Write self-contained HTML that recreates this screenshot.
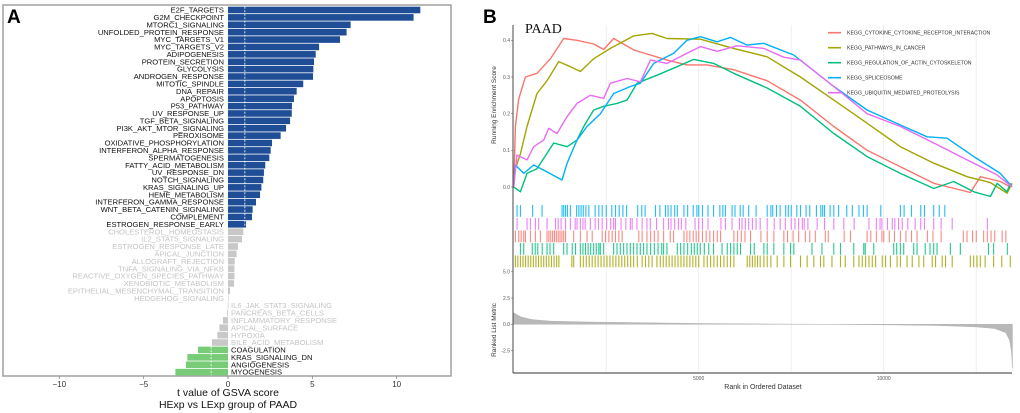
<!DOCTYPE html>
<html><head><meta charset="utf-8"><style>
body{margin:0;background:#fff;}
svg{display:block;font-family:"Liberation Sans",Arial,sans-serif;}
</style></head><body>
<svg id="fig" width="1020" height="413" viewBox="0 0 1020 413">
<g id="pa"></g>
<g id="pb"></g>
</svg>
<script>
// ---------- Panel A data ----------
const pathways = ["E2F_TARGETS","G2M_CHECKPOINT","MTORC1_SIGNALING","UNFOLDED_PROTEIN_RESPONSE","MYC_TARGETS_V1","MYC_TARGETS_V2","ADIPOGENESIS","PROTEIN_SECRETION","GLYCOLYSIS","ANDROGEN_RESPONSE","MITOTIC_SPINDLE","DNA_REPAIR","APOPTOSIS","P53_PATHWAY","UV_RESPONSE_UP","TGF_BETA_SIGNALING","PI3K_AKT_MTOR_SIGNALING","PEROXISOME","OXIDATIVE_PHOSPHORYLATION","INTERFERON_ALPHA_RESPONSE","SPERMATOGENESIS","FATTY_ACID_METABOLISM","UV_RESPONSE_DN","NOTCH_SIGNALING","KRAS_SIGNALING_UP","HEME_METABOLISM","INTERFERON_GAMMA_RESPONSE","WNT_BETA_CATENIN_SIGNALING","COMPLEMENT","ESTROGEN_RESPONSE_EARLY","CHOLESTEROL_HOMEOSTASIS","IL2_STAT5_SIGNALING","ESTROGEN_RESPONSE_LATE","APICAL_JUNCTION","ALLOGRAFT_REJECTION","TNFA_SIGNALING_VIA_NFKB","REACTIVE_OXYGEN_SPECIES_PATHWAY","XENOBIOTIC_METABOLISM","EPITHELIAL_MESENCHYMAL_TRANSITION","HEDGEHOG_SIGNALING","IL6_JAK_STAT3_SIGNALING","PANCREAS_BETA_CELLS","INFLAMMATORY_RESPONSE","APICAL_SURFACE","HYPOXIA","BILE_ACID_METABOLISM","COAGULATION","KRAS_SIGNALING_DN","ANGIOGENESIS","MYOGENESIS"];
const tValues = [11.4,11.0,7.27,7.03,6.64,5.4,5.2,5.1,5.06,5.04,4.46,4.07,3.91,3.79,3.78,3.68,3.44,3.12,2.61,2.53,2.45,2.21,2.13,2.09,1.98,1.9,1.66,1.46,1.42,1.07,0.91,0.83,0.59,0.51,0.4,0.38,0.38,0.36,0.12,0.02,-0.01,-0.05,-0.3,-0.51,-0.63,-0.95,-1.78,-2.41,-2.49,-3.12];
const xTicksA = [-10,-5,0,5,10];
const sigThreshold = 1.0; // |t| above this is coloured

// ---------- Panel B data ----------
const geneSets = ["KEGG_CYTOKINE_CYTOKINE_RECEPTOR_INTERACTION","KEGG_PATHWAYS_IN_CANCER","KEGG_REGULATION_OF_ACTIN_CYTOSKELETON","KEGG_SPLICEOSOME","KEGG_UBIQUITIN_MEDIATED_PROTEOLYSIS"];
const setColors = ["#F8766D","#A3A500","#00BF7D","#00B0F6","#E76BF3"];
const esRed = [[0,0],[45,0.165],[135,0.24],[315,0.3],[631,0.31],[991,0.35],[1351,0.405],[1712,0.4],[2162,0.39],[2433,0.375],[2703,0.405],[3244,0.374],[4145,0.346],[4685,0.333],[5226,0.333],[5947,0.32],[6848,0.29],[7749,0.237],[8650,0.165],[9551,0.1],[10452,0.055],[11353,0.01],[12344,-0.015],[12614,0.028],[13155,0.015],[13425,0]];
const esOlive = [[0,0.037],[180,0.09],[360,0.165],[631,0.255],[901,0.29],[1216,0.342],[1532,0.328],[1802,0.315],[2162,0.35],[2613,0.378],[3244,0.412],[3739,0.419],[4145,0.405],[5046,0.403],[5947,0.378],[6848,0.355],[7749,0.3],[8650,0.237],[9551,0.174],[10452,0.11],[11353,0.065],[12254,0.028],[12884,0.012],[13335,-0.017],[13470,0.01]];
const esGreen = [[0,0],[180,-0.013],[360,0.037],[631,0.05],[1081,0.12],[1442,0.11],[1712,0.128],[1892,0.165],[2162,0.21],[2433,0.22],[2793,0.228],[3063,0.237],[3334,0.283],[3874,0.305],[4415,0.328],[4865,0.348],[5406,0.337],[5947,0.31],[6848,0.27],[7749,0.22],[8650,0.146],[9551,0.083],[10452,0.037],[11353,-0.004],[11893,0.015],[12434,-0.013],[12884,-0.026],[13065,0.01],[13335,-0.013],[13425,0.01]];
const esBlue = [[0,0],[45,0.06],[270,0.037],[541,0.06],[811,0.046],[1306,0.019],[1442,0.065],[1712,0.128],[1982,0.165],[2343,0.2],[2703,0.255],[3154,0.274],[3424,0.283],[3784,0.337],[4325,0.365],[4685,0.4],[5046,0.41],[5496,0.396],[5857,0.408],[6307,0.387],[6758,0.392],[7568,0.36],[8650,0.274],[9551,0.21],[10452,0.169],[11172,0.137],[11713,0.133],[12434,0.083],[13155,0.037],[13470,0]];
const esMagenta = [[0,0],[90,0.087],[360,0.074],[541,0.11],[811,0.128],[946,0.16],[1171,0.146],[1442,0.192],[1712,0.228],[2072,0.25],[2433,0.242],[2613,0.283],[3063,0.296],[3424,0.287],[3694,0.346],[4145,0.337],[4685,0.365],[5046,0.383],[5496,0.37],[6037,0.385],[6758,0.378],[7298,0.354],[7749,0.346],[8650,0.274],[9551,0.2],[10452,0.165],[11353,0.12],[12254,0.074],[13065,0.033],[13470,0]];
const hitsBlue = [90,180,510,765,1305,1350,1400,1450,1530,1700,1760,1820,1880,1950,2030,2200,2300,2390,2500,2650,2750,2850,2950,3050,3350,3460,3550,3830,3950,4100,4170,4250,4350,4420,4600,4700,4850,4950,5000,5100,5250,5400,5570,5650,5720,5900,5980,6120,6200,6350,6550,6850,6950,7000,7100,7200,7350,7420,7500,7650,7750,7900,8000,8180,8300,8350,8400,8550,8650,8780,9000,9150,9330,9450,9550,9920,10450,10550,10750,11000,11100,11350,11500,11650];
const hitsMagenta = [90,360,450,585,675,900,1130,1200,1280,1400,1530,1660,1710,1800,1870,1930,2070,2200,2290,2390,2510,2620,2700,2750,2900,3030,3150,3200,3330,3470,3600,3690,3860,4050,4180,4250,4350,4450,4530,4650,4900,5000,5100,5250,5600,5720,5900,6100,6170,6260,6350,6450,6550,6660,6850,7040,7200,7340,7500,7600,7700,7800,7850,7950,8200,8400,8650,8920,9200,9600,9800,9900,9950,10100,10230,10300,10400,10500,10650,10850,11000,11100,11350,11550,11850,12800];
const hitsRed = [45,135,200,270,315,450,585,720,900,950,1000,1050,1100,1150,1200,1250,1300,1350,1400,1620,1800,1980,2120,2390,2480,2570,2660,2750,2840,2930,3380,3470,3600,3700,3800,3900,4050,4230,4320,4600,4680,4760,4850,4930,5000,5100,5200,5300,5400,5500,5590,5950,6050,6150,6250,6400,6680,6850,7030,7300,7400,7550,7700,7880,8000,8150,8420,8500,8930,9100,9550,9650,9800,9950,10000,10150,10290,10450,10600,10750,10900,11180,11330,11550,12150,12250,12400,12500,12700,12800,12900,13000,13200,13300];
const hitsGreen = [180,270,500,580,650,770,900,980,1080,1350,1440,1580,1670,1800,1870,1940,2010,2080,2160,2230,2300,2340,2430,2700,2790,2880,2970,3060,3150,3240,3330,3420,3510,3600,3700,3800,3900,4000,4050,4140,4420,4510,4600,4700,4800,4880,4960,5040,5150,5270,5400,5630,5770,5860,5950,6040,6130,6400,6500,6760,6850,7030,7300,7480,7570,8060,8330,8650,8830,9190,9460,9500,9730,10270,10350,10450,10540,10810,10900,11120,11250,11350,11440,11800,12070,12830,12970,13340];
const hitsOlive = [45,110,180,250,320,390,460,530,600,670,740,810,880,950,1020,1090,1160,1220,1570,1620,1800,1880,1960,2040,2120,2200,2280,2360,2440,2520,2600,2680,2760,2840,2920,3000,3080,3160,3240,3340,3470,3560,3650,3740,3870,3960,4040,4120,4200,4280,4360,4440,4520,4600,4680,4760,4840,4920,5000,5140,5230,5320,5410,5500,5590,5680,5770,5860,5950,6310,6380,6450,6520,6590,6660,6760,6850,6950,7120,7300,7480,7750,7930,8110,8290,8380,8600,8830,8960,9190,9330,9420,9510,9600,9690,9780,9960,10050,10180,10360,10450,10630,10770,10950,11080,11310,11400,11580,11670,11850,12340,12430,12520,12610,12740,12970,13190,13420];
const metricRanks = [0,200,500,1000,2000,3500,5000,7000,8500,10000,11500,12500,13000,13300,13400,13450,13480];
const metricValues = [1.1,0.7,0.45,0.3,0.22,0.15,0.08,0.03,0,-0.05,-0.12,-0.25,-0.4,-0.8,-1.5,-2.5,-4.2];
const rankTicks = [5000,10000];
const rankGrid = [2500,5000,7500,10000,12500];
const esTicks = [0.0,0.1,0.2,0.3,0.4];
const metricTicks = [5.0,2.5,0.0,-2.5];

const NS="http://www.w3.org/2000/svg";
function mk(parent,tag,attrs,text){const e=document.createElementNS(NS,tag);for(const k in attrs)e.setAttribute(k,attrs[k]);if(text!==undefined)e.textContent=text;parent.appendChild(e);return e;}

// ---------- Panel A ----------
const pa=document.getElementById('pa');
const xA=v=>228+v*16.87;
const rowY=i=>10+i*7.39;
let e;
e=mk(pa,'rect',{x:3,y:5,width:448,height:371,fill:'none',stroke:'#a0a0a0','stroke-width':1.5});


e=mk(pa,'text',{x:7,y:23,'font-size':19,'font-weight':'bold',fill:'#000'},'A');


pathways.forEach((p,i)=>{
  const v=tValues[i];const y=rowY(i);
  const col=v>=sigThreshold?'#1F4E96':(v<=-sigThreshold?'#78CC78':'#C8C8C8');
  const b=mk(pa,'rect',{x:Math.min(xA(0),xA(v)),y:y-3.3,width:Math.max(0.6,Math.abs(xA(v)-xA(0))),height:6.6,fill:col});
  
  
  const tcol=Math.abs(v)>=sigThreshold?'#111':'#C4C4C4';
  const t=mk(pa,'text',{x:v>=0?224:231,y:y+2.6,'font-size':7.6,fill:tcol,'text-anchor':v>=0?'end':'start'},p);
  
  
});
const posLast=tValues.filter(v=>v>=sigThreshold).length-1;
const negFirst=tValues.findIndex(v=>v<=-sigThreshold);
e=mk(pa,'line',{x1:xA(1),x2:xA(1),y1:rowY(0)-3.3,y2:rowY(posLast)+3.3,stroke:'#fff','stroke-width':0.8,'stroke-dasharray':'2,1.5'});


e=mk(pa,'line',{x1:xA(-1),x2:xA(-1),y1:rowY(negFirst)-3.3,y2:rowY(pathways.length-1)+3.3,stroke:'#fff','stroke-width':0.8,'stroke-dasharray':'2,1.5'});


xTicksA.forEach(t=>{
  const l=mk(pa,'line',{x1:xA(t),x2:xA(t),y1:376,y2:379,stroke:'#888','stroke-width':0.8});
  
  
  const tx=mk(pa,'text',{x:xA(t),y:387,'font-size':8,fill:'#333','text-anchor':'middle'},t<0?'\u2212'+Math.abs(t):String(t));
  
  
});
e=mk(pa,'text',{x:228,y:396,'font-size':10.5,fill:'#111','text-anchor':'middle'},'t value of GSVA score');


e=mk(pa,'text',{x:228,y:408,'font-size':10.5,fill:'#111','text-anchor':'middle'},'HExp vs LExp group of PAAD');



// ---------- Panel B ----------
const pb=document.getElementById('pb');
const xR=r=>513.7+r*0.037;
const yES=v=>187-v*366.7;
const yM=v=>324.3-v*10.5;
e=mk(pb,'text',{x:483,y:23,'font-size':19,'font-weight':'bold',fill:'#000'},'B');


rankGrid.forEach(r=>{
  const g=mk(pb,'line',{x1:xR(r),x2:xR(r),y1:25,y2:372,stroke:'#ebebeb','stroke-width':0.8});
  
  
});
e=mk(pb,'text',{x:525,y:33,'font-size':14,fill:'#111','font-family':'"Liberation Serif",serif'},'PAAD');


let d='M'+xR(metricRanks[0])+','+yM(0);
metricRanks.forEach((r,i)=>{d+=' L'+xR(r)+','+yM(metricValues[i]);});
d+=' L'+xR(metricRanks[metricRanks.length-1])+','+yM(0)+' Z';
e=mk(pb,'path',{d:d,fill:'#b8b8b8',stroke:'#aaa','stroke-width':0.4});


const hitSets=[[hitsBlue,3,205],[hitsMagenta,4,218],[hitsRed,0,230.5],[hitsGreen,2,243],[hitsOlive,1,255.5]];
hitSets.forEach(([arr,ci,y0])=>{
  arr.forEach(r=>{
    const h=mk(pb,'rect',{x:xR(r)-0.5,y:y0,width:1.1,height:11.8,fill:setColors[ci],opacity:0.85});
    
    
  });
});
const esSeries=[esRed,esOlive,esGreen,esBlue,esMagenta];
esSeries.forEach((s,i)=>{
  const pts=s.map(p=>xR(p[0]).toFixed(1)+','+yES(p[1]).toFixed(1)).join(' ');
  const pl=mk(pb,'polyline',{points:pts,fill:'none',stroke:setColors[i],'stroke-width':1.4,'stroke-linejoin':'round'});
  
  
});
e=mk(pb,'line',{x1:513,x2:513,y1:25,y2:373,stroke:'#333','stroke-width':0.9});


e=mk(pb,'line',{x1:513,x2:1012,y1:373,y2:373,stroke:'#333','stroke-width':0.9});


esTicks.forEach(t=>{
  const tx=mk(pb,'text',{x:510,y:yES(t)+1.8,'font-size':5,fill:'#555','text-anchor':'end'},t.toFixed(1));
  
  
  const l=mk(pb,'line',{x1:511,x2:513,y1:yES(t),y2:yES(t),stroke:'#555','stroke-width':0.5});
  
  
});
metricTicks.forEach(t=>{
  const tx=mk(pb,'text',{x:510,y:yM(t)+1.8,'font-size':5,fill:'#555','text-anchor':'end'},t.toFixed(1));
  
  
  const l=mk(pb,'line',{x1:511,x2:513,y1:yM(t),y2:yM(t),stroke:'#555','stroke-width':0.5});
  
  
});
rankTicks.forEach(t=>{
  const tx=mk(pb,'text',{x:xR(t),y:380,'font-size':5,fill:'#555','text-anchor':'middle'},String(t));
  
  
});
e=mk(pb,'text',{x:763,y:389,'font-size':7,fill:'#333','text-anchor':'middle'},'Rank in Ordered Dataset');


e=mk(pb,'text',{x:0,y:0,'font-size':6.5,fill:'#333','text-anchor':'middle',transform:'translate(496,105) rotate(-90)'},'Running Enrichment Score');


e=mk(pb,'text',{x:0,y:0,'font-size':6.5,fill:'#333','text-anchor':'middle',transform:'translate(496,330) rotate(-90)'},'Ranked List Metric');


geneSets.forEach((g,i)=>{
  const y=32.7+i*15;
  const l=mk(pb,'line',{x1:828,x2:841,y1:y,y2:y,stroke:setColors[i],'stroke-width':1.6});
  
  
  const t=mk(pb,'text',{x:847,y:y+1.9,'font-size':5.2,fill:'#333'},g);
  
  
});
</script>
</body></html>
